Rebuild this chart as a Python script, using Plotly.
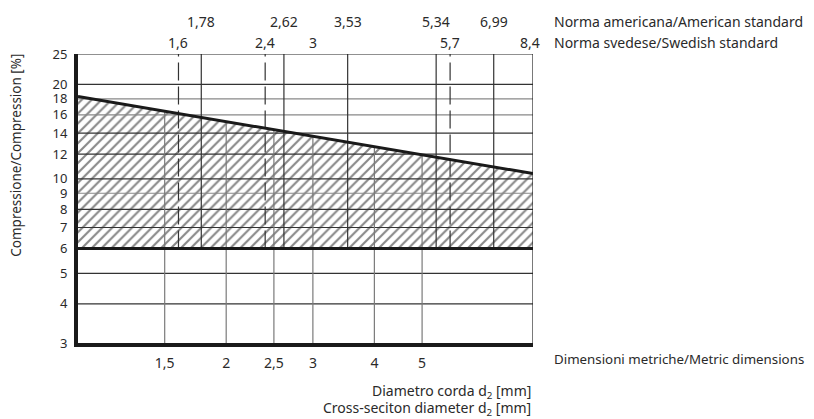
import numpy as np
import plotly.graph_objects as go

# ---- data ----
metric_ticks = [1.5, 2, 2.5, 3, 4, 5]
metric_labels = ["1,5", "2", "2,5", "3", "4", "5"]
american_std = [1.78, 2.62, 3.53, 5.34, 6.99]
american_labels = ["1,78", "2,62", "3,53", "5,34", "6,99"]
swedish_std = [1.6, 2.4, 3, 5.7, 8.4]
swedish_labels = ["1,6", "2,4", "3", "5,7", "8,4"]
swedish_dashed = [1.6, 2.4, 5.7]
y_ticks = [3, 4, 5, 6, 7, 8, 9, 10, 12, 14, 16, 18, 20, 25]
y_grid = [4, 5, 7, 8, 9, 10, 12, 14, 16, 18, 20]
y_grid_light = [9, 16, 18]
x_range = [1.0, 8.4]
y_range = [3, 25]
max_x = [1.0, 8.4]          # upper limit line (x)
max_y = [18.3, 10.4]        # upper limit line (compression %)
min_comp = 6                # lower limit

FONT = "Noto Sans"
TXT = "#2a2a2a"
FS = 14


def upper_at(x):
    lx = np.log10(max_x)
    ly = np.log10(max_y)
    return 10 ** np.interp(np.log10(x), lx, ly)


def seg(xs_pairs, ys_pairs):
    X, Y = [], []
    for (x0, x1), (y0, y1) in zip(xs_pairs, ys_pairs):
        X += [x0, x1, None]
        Y += [y0, y1, None]
    return X, Y


fig = go.Figure()

# hatched area
fig.add_trace(go.Scatter(
    x=[max_x[0], max_x[1], max_x[1], max_x[0], max_x[0]],
    y=[max_y[0], max_y[1], min_comp, min_comp, max_y[0]],
    fill="toself", mode="none", fillcolor="white",
    fillpattern=dict(shape="/", size=7, solidity=0.3, fgcolor="#111", bgcolor="white"),
    hoverinfo="skip", showlegend=False))

# horizontal gridlines
dark = [v for v in y_grid if v not in y_grid_light]
X, Y = seg([(x_range[0], x_range[1])] * len(dark), [(v, v) for v in dark])
fig.add_trace(go.Scatter(x=X, y=Y, mode="lines", line=dict(color="#333", width=1.2),
                         hoverinfo="skip", showlegend=False))
X, Y = seg([(x_range[0], x_range[1])] * len(y_grid_light), [(v, v) for v in y_grid_light])
fig.add_trace(go.Scatter(x=X, y=Y, mode="lines", line=dict(color="#888", width=1.2),
                         hoverinfo="skip", showlegend=False))

# metric vertical lines: from bottom up to upper limit line
X, Y = seg([(v, v) for v in metric_ticks], [(y_range[0], upper_at(v)) for v in metric_ticks])
fig.add_trace(go.Scatter(x=X, y=Y, mode="lines", line=dict(color="#7a7a7a", width=1.2),
                         hoverinfo="skip", showlegend=False))

# american standard: solid from min to top
X, Y = seg([(v, v) for v in american_std], [(min_comp, y_range[1])] * len(american_std))
fig.add_trace(go.Scatter(x=X, y=Y, mode="lines", line=dict(color="#333", width=1.2),
                         hoverinfo="skip", showlegend=False))

# swedish standard: dashed from min to top
X, Y = seg([(v, v) for v in swedish_dashed], [(min_comp, y_range[1])] * len(swedish_dashed))
fig.add_trace(go.Scatter(x=X, y=Y, mode="lines", line=dict(color="#333", width=1.2, dash="18px,6px"),
                         hoverinfo="skip", showlegend=False))

# top and right frame lines
fig.add_trace(go.Scatter(x=[x_range[0], x_range[1], x_range[1]], y=[y_range[1], y_range[1], y_range[0]],
                         mode="lines", line=dict(color="#222", width=1.2),
                         hoverinfo="skip", showlegend=False))

# lower limit 6%
fig.add_trace(go.Scatter(x=x_range, y=[min_comp, min_comp], mode="lines",
                         line=dict(color="#1a1a1a", width=3), hoverinfo="skip", showlegend=False))
# upper limit
fig.add_trace(go.Scatter(x=max_x, y=max_y, mode="lines",
                         line=dict(color="#1a1a1a", width=3), hoverinfo="skip", showlegend=False))

fig.update_xaxes(type="log", range=[np.log10(x_range[0]), np.log10(x_range[1])],
                 tickvals=metric_ticks, ticktext=metric_labels, showgrid=False, zeroline=False,
                 showline=True, linecolor="#1a1a1a", linewidth=4, ticks="",
                 tickfont=dict(family=FONT, size=FS, color=TXT), ticklabelstandoff=4)
fig.update_yaxes(type="log", range=[np.log10(y_range[0]), np.log10(y_range[1])],
                 tickvals=y_ticks, ticktext=[str(v) for v in y_ticks], showgrid=False, zeroline=False,
                 showline=True, linecolor="#1a1a1a", linewidth=4, ticks="",
                 tickfont=dict(family=FONT, size=13, color=TXT), ticklabelstandoff=4)

ann = []
for v, t in zip(american_std, american_labels):
    ann.append(dict(x=np.log10(v), y=1.111, xref="x", yref="paper", text=t, showarrow=False,
                    xanchor="center", yanchor="middle"))
for v, t in zip(swedish_std, swedish_labels):
    ann.append(dict(x=np.log10(v), y=1.0415, xref="x", yref="paper", text=t, showarrow=False,
                    xanchor="center", yanchor="middle", xshift=-3 if v == 8.4 else 0))
ann += [
    dict(x=1.041, y=1.111, xref="paper", yref="paper", text="Norma americana/American standard",
         showarrow=False, xanchor="left", yanchor="middle"),
    dict(x=1.041, y=1.0415, xref="paper", yref="paper", text="Norma svedese/Swedish standard",
         showarrow=False, xanchor="left", yanchor="middle"),
    dict(x=1.041, y=-0.055, xref="paper", yref="paper", text="Dimensioni metriche/Metric dimensions",
         showarrow=False, xanchor="left", yanchor="middle",
         font=dict(family=FONT, size=13.3, color=TXT)),
    dict(x=1.0, y=-0.168, xref="paper", yref="paper", text="Diametro corda d<sub>2</sub> [mm]",
         showarrow=False, xanchor="right", yanchor="middle"),
    dict(x=1.0, y=-0.228, xref="paper", yref="paper", text="Cross-seciton diameter d<sub>2</sub> [mm]",
         showarrow=False, xanchor="right", yanchor="middle"),
    dict(x=-0.135, y=0.65, xref="paper", yref="paper", text="Compressione/Compression [%]",
         showarrow=False, xanchor="center", yanchor="middle", textangle=-90,
         font=dict(family=FONT, size=13.5, color=TXT)),
]
fig.update_layout(
    width=814, height=419,
    margin=dict(l=78, r=281, t=54, b=76),
    paper_bgcolor="white", plot_bgcolor="white",
    font=dict(family=FONT, size=FS, color=TXT),
    annotations=ann, showlegend=False,
)

fig.write_html("out.html", config={"displayModeBar": False},
               post_script="document.body.style.margin='0';document.body.style.padding='0';")
